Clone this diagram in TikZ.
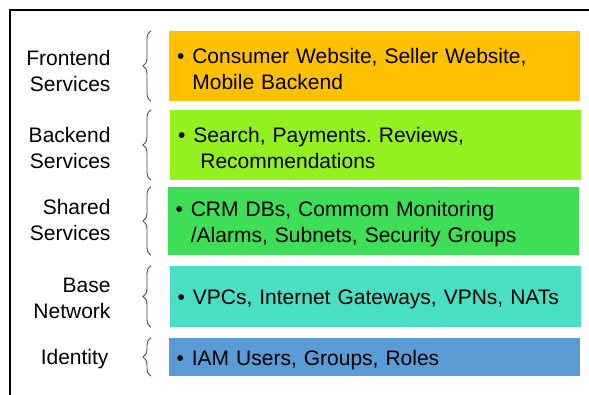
\documentclass[tikz,border=0pt]{standalone}
\usepackage{fontspec}
\setmainfont{Liberation Sans}
\usetikzlibrary{decorations.pathreplacing}

\definecolor{frontcol}{HTML}{FFC000}
\definecolor{backcol}{HTML}{92F11E}
\definecolor{sharedcol}{HTML}{3EDE57}
\definecolor{netcol}{HTML}{48DFC3}
\definecolor{idcol}{HTML}{5B9BD5}

\newcommand\tierbullet{\rule{0pt}{21pt}\textbullet\hspace{8pt}}
\newcommand\tierindent{\hspace*{15.4pt}}
\frenchspacing

\begin{document}
\begin{tikzpicture}[x=1pt, y=-1pt,
        layer/.style={rectangle, text width=395pt, inner xsep=8pt, align=left,
            font=\fontsize{21}{26}\selectfont},
        tier/.style={anchor=east, align=right, font=\fontsize{21}{26}\selectfont},
        layerbrace/.style={decorate, decoration={brace, amplitude=8pt},
            draw=black!70, line width=0.9pt}]
        \useasboundingbox (0,0) rectangle (589,395);
        \draw[line width=2.2pt] (10,400) |- (595,10);

        % layers
        \node[layer, fill=frontcol, minimum height=70pt] (fe) at (374.5,66)
            {\tierbullet Consumer Website, Seller Website,\\\tierindent Mobile Backend};
        \node[layer, fill=backcol, minimum height=70pt] (be) at (375.5,145)
            {\tierbullet Search, Payments. Reviews,\\\tierindent\hspace{7pt}Recommendations};
        \node[layer, fill=sharedcol, minimum height=68pt] (sh) at (373,221)
            {\tierbullet CRM DBs, Commom Monitoring\\\tierindent/Alarms, Subnets, Security Groups};
        \node[layer, fill=netcol, minimum height=61pt] (bn) at (375,296.5)
            {\tierbullet VPCs, Internet Gateways, VPNs, NATs};
        \node[layer, fill=idcol, minimum height=38pt] (id) at (374,357)
            {\tierbullet IAM Users, Groups, Roles};

        % tier names
        \node[tier] (fel) at (114,70.5) {Frontend\\Services};
        \node[tier] (bel) at (114,147.5) {Backend\\Services};
        \node[tier] (shl) at (114,219.5) {Shared\\Services};
        \node[tier] (bnl) at (114,298.5) {Base\\Network};
        \node[tier] (idl) at (112,359.5) {Identity};

        % braces
        \coordinate (brx) at (151,0);
        \foreach \b in {fe, be, sh, bn, id}
            \draw[layerbrace] (\b.south west -| brx) -- (\b.north west -| brx);
    \end{tikzpicture}
\end{document}
